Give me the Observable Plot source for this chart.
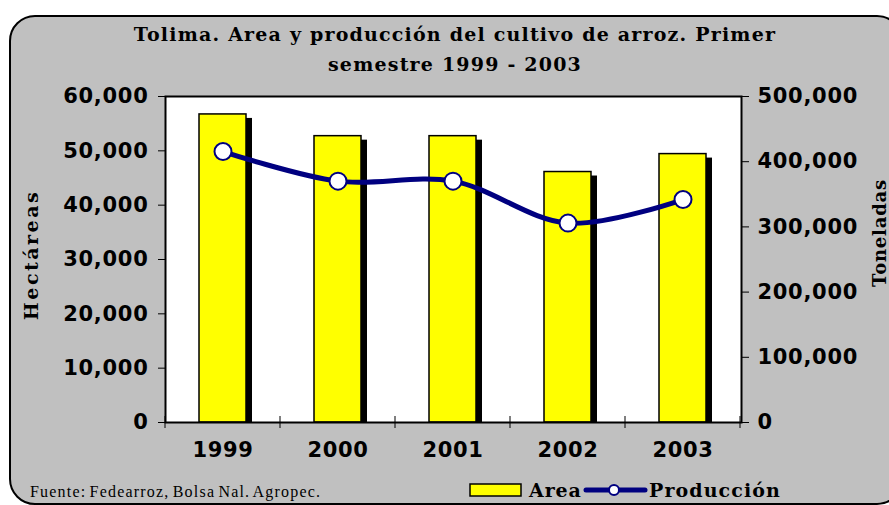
<!DOCTYPE html>
<html>
<head>
<meta charset="utf-8">
<script src="https://cdn.jsdelivr.net/npm/d3@7"></script>
<script src="https://cdn.jsdelivr.net/npm/@observablehq/plot@0.6"></script>
<style>
  html, body { margin: 0; padding: 0; background: #ffffff; }
  #wrap { position: relative; width: 889px; height: 505px; overflow: hidden; background: #ffffff; }
  #bg { position: absolute; left: 9px; top: 15px; width: 894px; height: 490px; box-sizing: border-box;
        border: 2px solid #000; border-radius: 26px; background: #c0c0c0; }
  #chart { position: absolute; left: 0; top: 0; }
  #overlay { position: absolute; left: 0; top: 0; pointer-events: none; }
</style>
</head>
<body>
<div id="wrap">
  <div id="bg"></div>
  <div id="chart"></div>
  <svg id="overlay" width="889" height="505"></svg>
</div>
<script>
// ---- data ----
const years = ["1999", "2000", "2001", "2002", "2003"];
const area = [56700, 52700, 52700, 46100, 49400];          // hectáreas
const produccion = [415600, 370200, 370200, 305800, 342000]; // toneladas
const areaTicks = [0, 10000, 20000, 30000, 40000, 50000, 60000];
const prodTicks = [0, 100000, 200000, 300000, 400000, 500000];
const titleLines = ["Tolima. Area y producción del cultivo de arroz. Primer", "semestre 1999 - 2003"];
const leftLabel = "Hectáreas";
const rightLabel = "Toneladas";
const sourceText = "Fuente: Fedearroz, Bolsa Nal. Agropec.";
const legendNames = ["Area", "Producción"];

const areaMax = 60000, prodMax = 500000;
const ratio = areaMax / prodMax;
const data = years.map((y, i) => ({year: y, area: area[i], prod: produccion[i]}));
const fmt = d3.format(",");

const tickFont = {fontSize: 21, fontWeight: "bold", fontFamily: "DejaVu Sans", fill: "#000"};

const chart = Plot.plot({
  width: 889,
  height: 505,
  marginLeft: 165,
  marginRight: 148,
  marginTop: 96,
  marginBottom: 83,
  style: {background: "transparent", color: "#000", overflow: "visible", letterSpacing: "0.7px"},
  x: {domain: years, paddingInner: 0.59, paddingOuter: 0.295},
  y: {domain: [0, areaMax]},
  marks: [
    Plot.frame({fill: "#ffffff", stroke: null}),
    Plot.barY(data, {x: "year", y: "area", fill: "#000", dx: 6, dy: 4, clip: true}),
    Plot.barY(data, {x: "year", y: "area", fill: "#ffff00", stroke: "#000", strokeWidth: 1.5}),
    Plot.line(data, {x: "year", y: d => d.prod * ratio, stroke: "#000080", strokeWidth: 5, curve: "catmull-rom"}),
    Plot.dot(data, {x: "year", y: d => d.prod * ratio, r: 8.5, fill: "#fff", stroke: "#000080", strokeWidth: 2}),
    Plot.frame({stroke: "#000", strokeWidth: 2}),
    Plot.axisY({ticks: areaTicks, tickFormat: fmt, tickSize: 7, tickPadding: 10, label: null, anchor: "left", ...tickFont}),
    Plot.axisY({ticks: prodTicks.map(v => v * ratio), tickFormat: d => fmt(Math.round(d / ratio)), tickSize: 7, tickPadding: 9, label: null, anchor: "right", ...tickFont}),
    Plot.axisX({tickSize: 0, tickPadding: 20, label: null, ...tickFont})
  ]
});
document.getElementById("chart").appendChild(chart);

// category-boundary ticks on the x axis, from Plot's own scales
const xs = chart.scale("x");
const ys = chart.scale("y");
const half = (xs.step - xs.bandwidth) / 2;
const bounds = years.map(y => xs.apply(y) - half).concat([xs.apply(years[years.length - 1]) + xs.bandwidth + half]);
const y0 = ys.apply(0);
const svg = d3.select(chart.tagName.toLowerCase() === "svg" ? chart : chart.querySelector("svg"));
svg.append("g").selectAll("line").data(bounds).join("line")
  .attr("x1", d => d).attr("x2", d => d)
  .attr("y1", y0 - 6).attr("y2", y0 + 6)
  .attr("stroke", "#000").attr("stroke-width", 1);

// ---- overlay texts: title, axis titles, source, legend ----
const ov = d3.select("#overlay");
const serifBold = "DejaVu Serif";
ov.selectAll("text.title").data(titleLines).join("text")
  .attr("class", "title")
  .attr("x", 455).attr("y", (d, i) => 41 + i * 30)
  .attr("text-anchor", "middle")
  .style("font-family", serifBold).style("font-weight", "bold")
  .style("font-size", "19px").style("letter-spacing", "1.2px")
  .text(d => d);

ov.append("text")
  .attr("transform", "translate(31,255) rotate(-90)")
  .attr("text-anchor", "middle").attr("dominant-baseline", "central")
  .style("font-family", serifBold).style("font-weight", "bold")
  .style("font-size", "19px").style("letter-spacing", "2.5px")
  .text(leftLabel);

ov.append("text")
  .attr("transform", "translate(879,233) rotate(-90)")
  .attr("text-anchor", "middle").attr("dominant-baseline", "central")
  .style("font-family", serifBold).style("font-weight", "bold")
  .style("font-size", "18px").style("letter-spacing", "0.8px")
  .text(rightLabel);

ov.append("text")
  .attr("x", 30).attr("y", 497)
  .style("font-family", "Liberation Serif")
  .style("font-size", "16px").style("letter-spacing", "1.2px").style("word-spacing", "-2px")
  .text(sourceText);

// legend
const lg = ov.append("g");
lg.append("rect").attr("x", 470).attr("y", 484).attr("width", 51).attr("height", 12)
  .attr("fill", "#ffff00").attr("stroke", "#000").attr("stroke-width", 1.5);
lg.append("text").attr("x", 529).attr("y", 497)
  .style("font-family", serifBold).style("font-weight", "bold")
  .style("font-size", "19px").style("letter-spacing", "0.9px")
  .text(legendNames[0]);
lg.append("line").attr("x1", 586).attr("x2", 645).attr("y1", 490).attr("y2", 490)
  .attr("stroke", "#000080").attr("stroke-width", 5).attr("stroke-linecap", "round");
lg.append("circle").attr("cx", 614).attr("cy", 490).attr("r", 5)
  .attr("fill", "#fff").attr("stroke", "#000080").attr("stroke-width", 2);
lg.append("text").attr("x", 649).attr("y", 497)
  .style("font-family", serifBold).style("font-weight", "bold")
  .style("font-size", "19px").style("letter-spacing", "1.1px")
  .text(legendNames[1]);
</script>
</body>
</html>
